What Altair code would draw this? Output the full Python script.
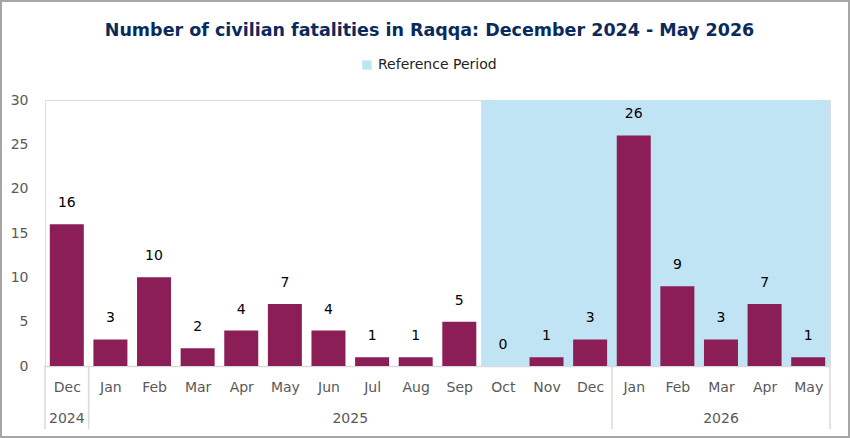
import altair as alt
import pandas as pd

months = ["Dec", "Jan", "Feb", "Mar", "Apr", "May", "Jun", "Jul", "Aug", "Sep",
          "Oct", "Nov", "Dec", "Jan", "Feb", "Mar", "Apr", "May"]
years = ["2024"] + ["2025"] * 12 + ["2026"] * 5
fatalities = [16, 3, 10, 2, 4, 7, 4, 1, 1, 5, 0, 1, 3, 26, 9, 3, 7, 1]

year_names = ["2024", "2025", "2026"]
year_centers = [0, 6.5, 15]
separators = [-0.5, 0.5, 12.5, 17.5]
ref_start, ref_end = 9.5, 17.5

FONT = "DejaVu Sans"
BAR = "#8B1E57"
SHADE = "#C1E4F4"
GRAY = "#595959"
LINE = "#D9D9D9"

W, H = 785, 266
PAD_L, PAD_T, PAD_R, PAD_B = 45, 100, 20, 72

df = pd.DataFrame({"i": list(range(len(months))), "month": months,
                   "year": years, "value": fatalities})
shade_df = pd.DataFrame({"start": [ref_start], "end": [ref_end], "lab": ["Reference Period"]})
years_df = pd.DataFrame({"year": year_names, "c": year_centers})
sep_df = pd.DataFrame({"x": separators})

month_js = "[" + ",".join(f"'{m}'" for m in months) + "]"

xscale = alt.Scale(domain=[-0.5, len(months) - 0.5], nice=False, zero=False, padding=0)
yscale = alt.Scale(domain=[0, 30], nice=False, padding=0)

shade = alt.Chart(shade_df).mark_rect().encode(
    x=alt.X("start:Q", scale=xscale, axis=alt.Axis(
        values=list(range(len(months))), labelExpr=f"{month_js}[datum.value]",
        ticks=False, grid=False, domainColor=LINE, domainWidth=1.5,
        labelColor=GRAY, labelFontSize=14, labelFont=FONT, labelPadding=14,
        title=None, labelFlush=False)),
    x2="end:Q",
    y=alt.Y("zero:Q", scale=yscale),
    y2=alt.value(0),
    color=alt.Color("lab:N", scale=alt.Scale(range=[SHADE]),
                    legend=alt.Legend(title=None, orient="none", legendX=315, legendY=-42,
                                      symbolType="square", symbolSize=90,
                                      labelFontSize=14, labelFont=FONT,
                                      labelColor="#222222", symbolStrokeWidth=0)),
).transform_calculate(zero="0")

bars = alt.Chart(df).mark_bar(color=BAR, width=34).encode(
    x=alt.X("i:Q", scale=xscale),
    y=alt.Y("value:Q", scale=yscale, axis=alt.Axis(
        values=[0, 5, 10, 15, 20, 25, 30], ticks=False, grid=False, domain=False,
        labelColor=GRAY, labelFontSize=14, labelFont=FONT, labelPadding=17, title=None)),
)

labels = alt.Chart(df).mark_text(dy=-21, fontSize=14, font=FONT, color="#000000").encode(
    x=alt.X("i:Q", scale=xscale),
    y=alt.Y("value:Q", scale=yscale),
    text="value:Q",
)

seps = alt.Chart(sep_df).mark_rule(color=LINE, strokeWidth=1.5).encode(
    x=alt.X("x:Q", scale=xscale),
    y=alt.value(H),
    y2=alt.value(H + 63),
)

year_text = alt.Chart(years_df).mark_text(fontSize=14, font=FONT, color=GRAY, baseline="middle").encode(
    x=alt.X("c:Q", scale=xscale),
    y=alt.value(H + 53),
    text="year:N",
)

border = alt.Chart(sep_df.head(1)).mark_rect(fill=None, stroke="#A6A6A6", strokeWidth=2).encode(
    x=alt.value(-PAD_L + 1), x2=alt.value(850 - PAD_L - 1),
    y=alt.value(-PAD_T + 1), y2=alt.value(438 - PAD_T - 1),
)

chart = alt.layer(shade, bars, labels, seps, year_text, border).properties(
    width=W, height=H,
    autosize=alt.AutoSizeParams(type="none"),
    padding={"left": PAD_L, "top": PAD_T, "right": PAD_R, "bottom": PAD_B},
    title=alt.TitleParams("Number of civilian fatalities in Raqqa: December 2024 - May 2026",
                          anchor="middle", font=FONT, fontSize=17.5, fontWeight="bold",
                          color="#0B2A5C", offset=-39, dx=-8),
).configure_view(strokeWidth=0).configure(background="white")

chart.save("out.html", embed_options={"renderer": "svg", "actions": False})
